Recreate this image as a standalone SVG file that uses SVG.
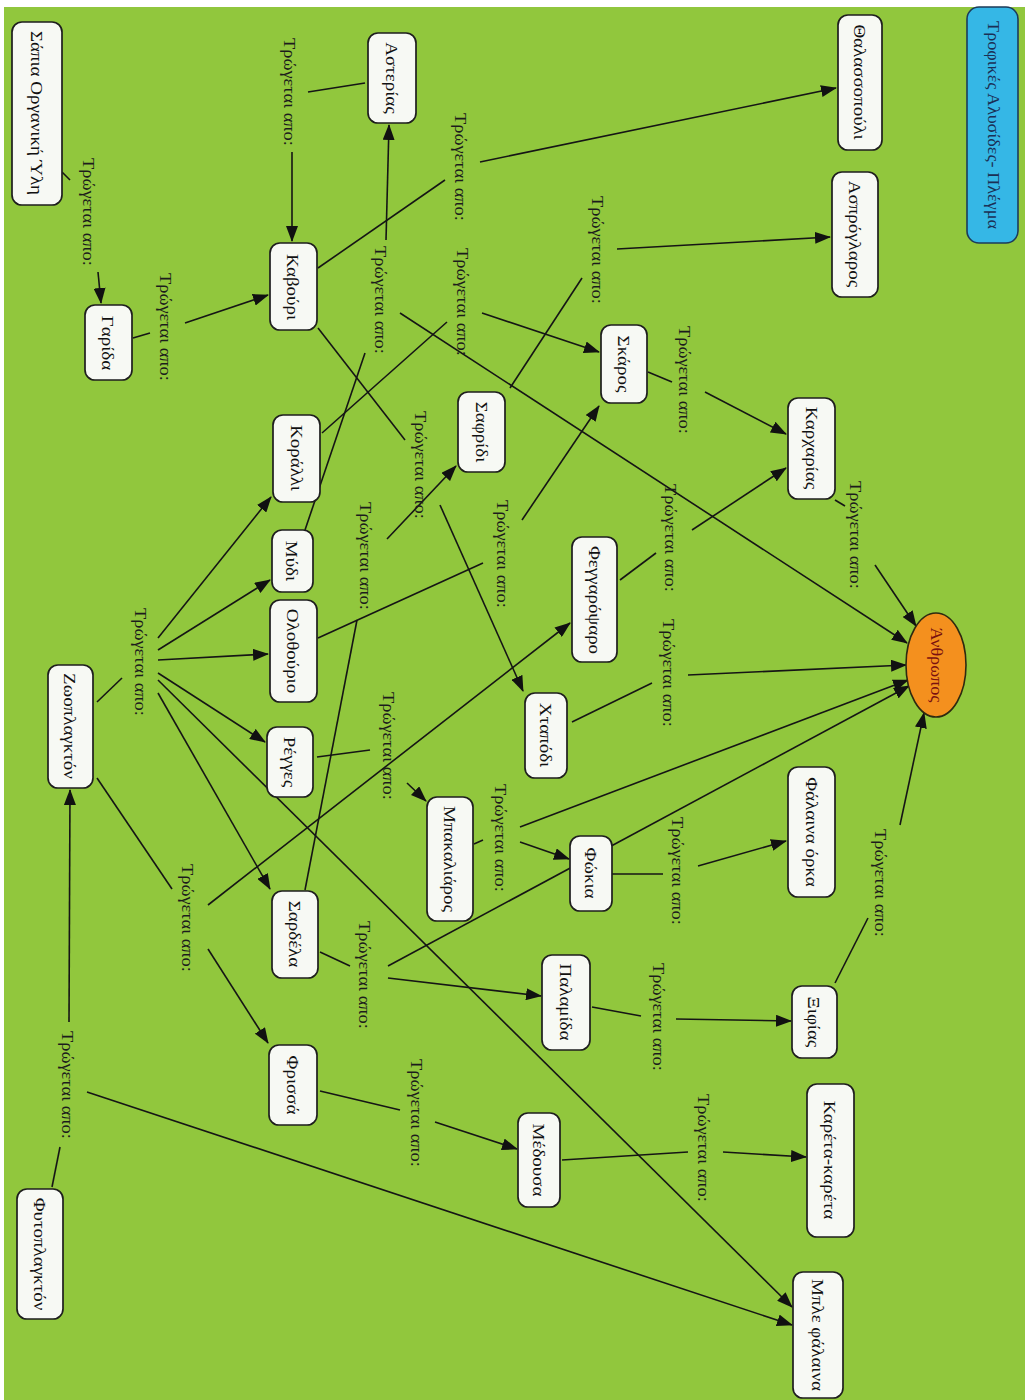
<svg xmlns="http://www.w3.org/2000/svg" width="1025" height="1400" viewBox="0 0 1025 1400">
<defs>
<marker id="ah" viewBox="0 0 16 12" refX="15" refY="6" markerWidth="16" markerHeight="12" markerUnits="userSpaceOnUse" orient="auto">
<path d="M0,0 L16,6 L0,12 Z" fill="#111"/>
</marker>
</defs>
<style>
.n rect{fill:#f7f9f4;stroke:#1e1e1e;stroke-width:1.7}
.t{font-family:"Liberation Serif","Times New Roman",serif;font-size:16.5px;fill:#111;text-anchor:middle;dominant-baseline:central}
.lb{fill:#1c1c1c;font-size:16px}
.c line{stroke:#151515;stroke-width:1.6}
.c line.a{marker-end:url(#ah)}
</style>
<rect x="0" y="0" width="1025" height="1400" fill="#ffffff"/>
<rect x="4" y="7" width="1021" height="1393" fill="#91c73d"/>

<g id="connectors" class="c">
<line x1="62" y1="172" x2="70" y2="180"/>
<line x1="133" y1="338" x2="150" y2="333"/>
<line x1="365" y1="83" x2="308" y2="92"/>
<line x1="305" y1="530" x2="365" y2="353"/>
<line x1="318" y1="268" x2="445" y2="180"/>
<line x1="322" y1="433" x2="447" y2="322"/>
<line x1="510" y1="388" x2="582" y2="278"/>
<line x1="318" y1="328" x2="405" y2="440"/>
<line x1="305" y1="890" x2="357" y2="620"/>
<line x1="318" y1="638" x2="483" y2="563"/>
<line x1="620" y1="580" x2="656" y2="553"/>
<line x1="648" y1="372" x2="672" y2="382"/>
<line x1="835" y1="500" x2="845" y2="506"/>
<line x1="572" y1="722" x2="652" y2="683"/>
<line x1="97" y1="702" x2="122" y2="678"/>
<line x1="97" y1="778" x2="172" y2="889"/>
<line x1="317" y1="757" x2="370" y2="750"/>
<line x1="474" y1="844" x2="483" y2="840"/>
<line x1="612" y1="874" x2="663" y2="874"/>
<line x1="320" y1="952" x2="350" y2="966"/>
<line x1="592" y1="1007" x2="641" y2="1016"/>
<line x1="835" y1="983" x2="868" y2="918"/>
<line x1="320" y1="1091" x2="400" y2="1110"/>
<line x1="562" y1="1160" x2="688" y2="1152"/>
<line x1="52" y1="1187" x2="60" y2="1147"/>

<line class="a" x1="98" y1="272" x2="101" y2="303"/>
<line class="a" x1="185" y1="323" x2="268" y2="295"/>
<line class="a" x1="292" y1="152" x2="292" y2="241"/>
<line class="a" x1="386" y1="240" x2="389" y2="125"/>
<line class="a" x1="400" y1="313" x2="907" y2="643"/>
<line class="a" x1="480" y1="162" x2="836" y2="88"/>
<line class="a" x1="482" y1="313" x2="599" y2="352"/>
<line class="a" x1="617" y1="249" x2="830" y2="237"/>
<line class="a" x1="440" y1="505" x2="523" y2="691"/>
<line class="a" x1="387" y1="539" x2="456" y2="466"/>
<line class="a" x1="522" y1="520" x2="599" y2="406"/>
<line class="a" x1="692" y1="530" x2="786" y2="468"/>
<line class="a" x1="705" y1="392" x2="786" y2="434"/>
<line class="a" x1="875" y1="565" x2="916" y2="626"/>
<line class="a" x1="688" y1="675" x2="906" y2="665"/>
<line class="a" x1="158" y1="638" x2="271" y2="497"/>
<line class="a" x1="158" y1="650" x2="270" y2="580"/>
<line class="a" x1="158" y1="660" x2="268" y2="654"/>
<line class="a" x1="158" y1="673" x2="265" y2="742"/>
<line class="a" x1="158" y1="693" x2="270" y2="889"/>
<line class="a" x1="158" y1="680" x2="792" y2="1307"/>
<line class="a" x1="208" y1="905" x2="570" y2="623"/>
<line class="a" x1="208" y1="949" x2="268" y2="1043"/>
<line class="a" x1="407" y1="783" x2="426" y2="801"/>
<line class="a" x1="520" y1="842" x2="569" y2="859"/>
<line class="a" x1="520" y1="827" x2="908" y2="680"/>
<line class="a" x1="698" y1="866" x2="786" y2="841"/>
<line class="a" x1="388" y1="966" x2="909" y2="686"/>
<line class="a" x1="388" y1="978" x2="541" y2="996"/>
<line class="a" x1="676" y1="1019" x2="791" y2="1021"/>
<line class="a" x1="900" y1="825" x2="924" y2="713"/>
<line class="a" x1="435" y1="1122" x2="517" y2="1149"/>
<line class="a" x1="723" y1="1152" x2="806" y2="1157"/>
<line class="a" x1="69" y1="1022" x2="70" y2="790"/>
<line class="a" x1="87" y1="1092" x2="792" y2="1325"/>
</g>

<g id="labels">
<text class="t lb" transform="translate(88,212) rotate(90) scale(1.15,1)">Τρώγεται απο:</text>
<text class="t lb" transform="translate(165,327) rotate(90) scale(1.15,1)">Τρώγεται απο:</text>
<text class="t lb" transform="translate(289,92) rotate(90) scale(1.15,1)">Τρώγεται απο:</text>
<text class="t lb" transform="translate(380,300) rotate(90) scale(1.15,1)">Τρώγεται απο:</text>
<text class="t lb" transform="translate(460,167) rotate(90) scale(1.15,1)">Τρώγεται απο:</text>
<text class="t lb" transform="translate(462,302) rotate(90) scale(1.15,1)">Τρώγεται απο:</text>
<text class="t lb" transform="translate(597,250) rotate(90) scale(1.15,1)">Τρώγεται απο:</text>
<text class="t lb" transform="translate(420,465) rotate(90) scale(1.15,1)">Τρώγεται απο:</text>
<text class="t lb" transform="translate(365,556) rotate(90) scale(1.15,1)">Τρώγεται απο:</text>
<text class="t lb" transform="translate(502,554) rotate(90) scale(1.15,1)">Τρώγεται απο:</text>
<text class="t lb" transform="translate(670,538) rotate(90) scale(1.15,1)">Τρώγεται απο:</text>
<text class="t lb" transform="translate(684,380) rotate(90) scale(1.15,1)">Τρώγεται απο:</text>
<text class="t lb" transform="translate(855,535) rotate(90) scale(1.15,1)">Τρώγεται απο:</text>
<text class="t lb" transform="translate(668,673) rotate(90) scale(1.15,1)">Τρώγεται απο:</text>
<text class="t lb" transform="translate(140,662) rotate(90) scale(1.15,1)">Τρώγεται απο:</text>
<text class="t lb" transform="translate(187,918) rotate(90) scale(1.15,1)">Τρώγεται απο:</text>
<text class="t lb" transform="translate(388,746) rotate(90) scale(1.15,1)">Τρώγεται απο:</text>
<text class="t lb" transform="translate(500,838) rotate(90) scale(1.15,1)">Τρώγεται απο:</text>
<text class="t lb" transform="translate(677,871) rotate(90) scale(1.15,1)">Τρώγεται απο:</text>
<text class="t lb" transform="translate(364,975) rotate(90) scale(1.15,1)">Τρώγεται απο:</text>
<text class="t lb" transform="translate(658,1017) rotate(90) scale(1.15,1)">Τρώγεται απο:</text>
<text class="t lb" transform="translate(880,883) rotate(90) scale(1.15,1)">Τρώγεται απο:</text>
<text class="t lb" transform="translate(416,1113) rotate(90) scale(1.15,1)">Τρώγεται απο:</text>
<text class="t lb" transform="translate(703,1148) rotate(90) scale(1.15,1)">Τρώγεται απο:</text>
<text class="t lb" transform="translate(67,1085) rotate(90) scale(1.15,1)">Τρώγεται απο:</text>
</g>

<g id="title">
<rect x="967" y="7" width="51" height="236" rx="12" fill="#35b7e6" stroke="#1d3b5a" stroke-width="1.6"/>
<text class="t" style="fill:#1b2f55" transform="translate(993,125) rotate(90) scale(1.1,1)">Τροφικές Αλυσίδες- Πλέγμα</text>
</g>

<g id="sapia" class="n"><rect x="12" y="22" width="50" height="183" rx="10"/><text class="t" transform="translate(37,113) rotate(90) scale(1.15,1)">Σάπια Οργανική Ύλη</text></g>
<g id="garida" class="n"><rect x="85" y="305" width="47" height="75" rx="10"/><text class="t" transform="translate(108,343) rotate(90) scale(1.15,1)">Γαρίδα</text></g>
<g id="kavouri" class="n"><rect x="270" y="243" width="47" height="87" rx="10"/><text class="t" transform="translate(293,287) rotate(90) scale(1.15,1)">Καβούρι</text></g>
<g id="asterias" class="n"><rect x="368" y="33" width="48" height="90" rx="10"/><text class="t" transform="translate(392,78) rotate(90) scale(1.15,1)">Αστερίας</text></g>
<g id="thalassopouli" class="n"><rect x="838" y="15" width="44" height="135" rx="10"/><text class="t" transform="translate(860,82) rotate(90) scale(1.15,1)">Θαλασσοπούλι</text></g>
<g id="asprogglaros" class="n"><rect x="832" y="172" width="46" height="125" rx="10"/><text class="t" transform="translate(855,234) rotate(90) scale(1.15,1)">Ασπρόγλαρος</text></g>
<g id="skaros" class="n"><rect x="601" y="325" width="46" height="78" rx="10"/><text class="t" transform="translate(624,364) rotate(90) scale(1.15,1)">Σκάρος</text></g>
<g id="safridi" class="n"><rect x="458" y="392" width="47" height="80" rx="10"/><text class="t" transform="translate(482,432) rotate(90) scale(1.15,1)">Σαφρίδι</text></g>
<g id="karcharias" class="n"><rect x="788" y="398" width="47" height="101" rx="10"/><text class="t" transform="translate(812,448) rotate(90) scale(1.15,1)">Καρχαρίας</text></g>
<g id="koralli" class="n"><rect x="273" y="415" width="47" height="87" rx="10"/><text class="t" transform="translate(297,458) rotate(90) scale(1.15,1)">Κοράλλι</text></g>
<g id="mydi" class="n"><rect x="272" y="530" width="41" height="62" rx="10"/><text class="t" transform="translate(292,561) rotate(90) scale(1.15,1)">Μύδι</text></g>
<g id="olothourio" class="n"><rect x="270" y="600" width="47" height="102" rx="10"/><text class="t" transform="translate(293,651) rotate(90) scale(1.15,1)">Ολοθούριο</text></g>
<g id="feggaropsaro" class="n"><rect x="572" y="537" width="45" height="125" rx="10"/><text class="t" transform="translate(595,600) rotate(90) scale(1.15,1)">Φεγγαρόψαρο</text></g>
<g id="zooplankton" class="n"><rect x="48" y="665" width="45" height="123" rx="10"/><text class="t" transform="translate(70,726) rotate(90) scale(1.15,1)">Ζωοπλαγκτόν</text></g>
<g id="regges" class="n"><rect x="267" y="727" width="46" height="70" rx="10"/><text class="t" transform="translate(290,762) rotate(90) scale(1.15,1)">Ρέγγες</text></g>
<g id="chtapodi" class="n"><rect x="525" y="693" width="42" height="85" rx="10"/><text class="t" transform="translate(546,735) rotate(90) scale(1.15,1)">Χταπόδι</text></g>
<g id="anthropos"><ellipse cx="936" cy="665" rx="30" ry="52" fill="#f4901e" stroke="#2e2a10" stroke-width="1.6"/><text class="t" style="fill:#7a1010" transform="translate(936,665) rotate(90) scale(1.1,1)">Άνθρωπος</text></g>
<g id="falaina-orka" class="n"><rect x="788" y="767" width="47" height="130" rx="10"/><text class="t" transform="translate(812,832) rotate(90) scale(1.15,1)">Φάλαινα όρκα</text></g>
<g id="bakaliaros" class="n"><rect x="427" y="797" width="46" height="124" rx="10"/><text class="t" transform="translate(450,859) rotate(90) scale(1.15,1)">Μπακαλιάρος</text></g>
<g id="fokia" class="n"><rect x="570" y="836" width="42" height="75" rx="10"/><text class="t" transform="translate(591,873) rotate(90) scale(1.15,1)">Φώκια</text></g>
<g id="sardela" class="n"><rect x="272" y="891" width="46" height="87" rx="10"/><text class="t" transform="translate(295,934) rotate(90) scale(1.15,1)">Σαρδέλα</text></g>
<g id="palamida" class="n"><rect x="542" y="955" width="48" height="95" rx="10"/><text class="t" transform="translate(566,1002) rotate(90) scale(1.15,1)">Παλαμίδα</text></g>
<g id="xifias" class="n"><rect x="792" y="986" width="45" height="72" rx="10"/><text class="t" transform="translate(814,1022) rotate(90) scale(1.15,1)">Ξιφίας</text></g>
<g id="frissa" class="n"><rect x="269" y="1045" width="48" height="80" rx="10"/><text class="t" transform="translate(293,1085) rotate(90) scale(1.15,1)">Φρισσά</text></g>
<g id="medousa" class="n"><rect x="518" y="1113" width="42" height="94" rx="10"/><text class="t" transform="translate(539,1160) rotate(90) scale(1.15,1)">Μέδουσα</text></g>
<g id="kareta" class="n"><rect x="807" y="1084" width="47" height="153" rx="10"/><text class="t" transform="translate(830,1160) rotate(90) scale(1.15,1)">Καρέτα-καρέτα</text></g>
<g id="fytoplankton" class="n"><rect x="17" y="1189" width="46" height="130" rx="10"/><text class="t" transform="translate(40,1254) rotate(90) scale(1.15,1)">Φυτοπλαγκτόν</text></g>
<g id="ble-falaina" class="n"><rect x="793" y="1272" width="50" height="126" rx="10"/><text class="t" transform="translate(818,1335) rotate(90) scale(1.15,1)">Μπλε φάλαινα</text></g>
</svg>
